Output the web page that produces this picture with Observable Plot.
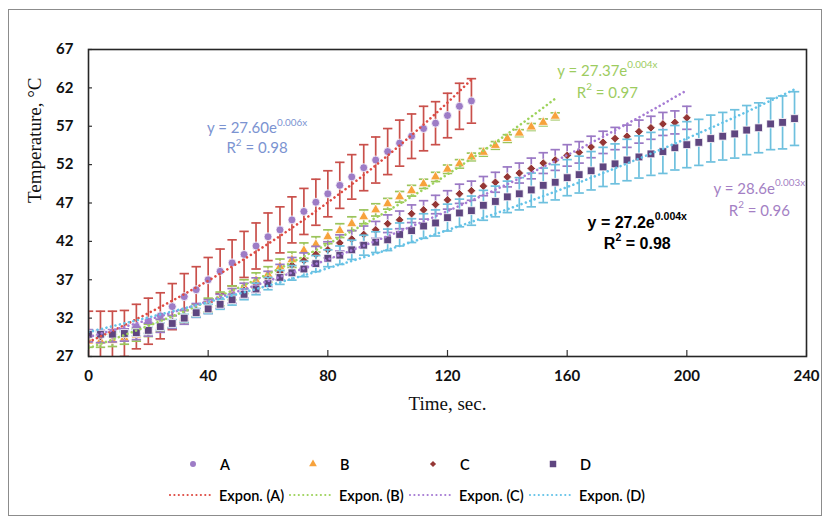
<!DOCTYPE html>
<html>
<head>
<meta charset="utf-8">
<script src="https://cdn.jsdelivr.net/npm/d3@7"></script>
<script src="https://cdn.jsdelivr.net/npm/@observablehq/plot@0.6"></script>
<style>
  body { margin: 0; background: #fff; }
  #wrap { position: relative; width: 828px; height: 523px; overflow: hidden; background: #fff; }
  #border { position: absolute; left: 8px; top: 9px; width: 814px; height: 507px; border: 1px solid #8c8c8c; box-sizing: border-box; }
  #chart { position: absolute; left: 0; top: 0; }
  #chart svg { display: block; }
</style>
</head>
<body>
<div id="wrap"><div id="border"></div><div id="chart"></div></div>
<script>
// ---------- data ----------
const times = [0,4,8,12,16,20,24,28,32,36,40,44,48,52,56,60,64,68,72,76,80,84,88,92,96,100,104,108,112,116,120,124,128,132,136,140,144,148,152,156,160,164,168,172,176,180,184,188,192,196,200,204,208,212,216,220,224,228,232,236];
const xTicks = [0, 40, 80, 120, 160, 200, 240];
const yTicks = [27, 32, 37, 42, 47, 52, 57, 62, 67];
const seriesNames = ["A", "B", "C", "D"];

const tempA = [29.9,29.9,29.9,30.0,30.9,31.6,32.3,33.5,34.8,35.7,
               37.0,38.1,39.2,40.3,41.4,42.6,43.5,44.8,45.9,47.1,
               48.2,49.3,50.4,51.6,52.6,53.7,54.8,55.7,56.7,57.4,
               58.4,59.6,60.3];
const errA  = [3.0,3.0,3.0,3.0,2.9,3.0,3.0,3.0,3.0,3.0,
               2.9,2.9,3.0,3.0,3.0,3.1,3.0,3.0,3.0,3.0,
               3.0,3.0,2.9,3.0,3.0,3.0,3.0,2.9,2.9,2.8,
               2.9,3.0,2.9];

const tempB = [29.0,29.0,29.1,29.4,29.8,30.4,31.0,31.5,32.2,33.0,
               33.7,34.5,35.3,36.1,36.9,37.7,38.7,39.6,40.8,41.6,
               42.6,43.4,44.3,45.2,46.1,46.9,47.8,48.6,49.5,50.4,
               51.4,52.1,53.0,53.6,54.5,55.4,56.1,56.9,57.5,58.3];
const errB  = [0.8,0.8,0.8,0.8,0.8,0.8,0.8,0.8,0.8,0.8,
               0.9,0.9,0.9,0.9,1.0,1.0,1.0,1.0,1.0,1.0,
               0.9,0.9,0.9,0.9,0.8,0.7,0.7,0.7,0.6,0.6,
               0.55,0.55,0.5,0.5,0.5,0.5,0.45,0.45,0.45,0.45];

const tempC = [29.7,29.6,29.7,29.8,30.0,30.5,31.0,31.5,32.1,33.0,
               33.5,34.2,34.9,35.6,36.3,37.1,38.0,38.9,39.5,40.3,
               40.9,41.8,42.3,42.9,43.5,44.3,44.8,45.6,46.1,46.8,
               47.4,48.2,48.6,49.2,49.7,50.4,50.9,51.5,52.2,52.6,
               53.2,53.6,54.3,54.9,55.4,55.7,56.3,56.8,57.3,57.5,
               58.1];
const errC  = [0.8,0.8,0.8,0.8,0.8,0.85,0.85,0.85,0.9,0.9,
               0.9,0.9,0.95,0.95,0.95,1.0,1.0,1.0,1.0,1.05,
               1.05,1.05,1.1,1.1,1.1,1.15,1.15,1.15,1.2,1.2,
               1.2,1.25,1.25,1.25,1.3,1.3,1.3,1.35,1.35,1.35,
               1.4,1.4,1.4,1.45,1.45,1.45,1.5,1.5,1.5,1.5,
               1.5];

const tempD = [29.9,29.9,29.9,30.0,30.1,30.4,30.9,31.3,32.0,32.7,
               33.2,33.8,34.4,35.1,35.8,36.5,37.3,37.9,38.4,39.1,
               39.8,40.2,40.9,41.5,41.9,42.2,42.9,43.4,44.0,44.4,
               45.1,45.7,46.0,46.7,47.2,47.8,48.2,48.7,49.3,49.7,
               50.3,50.7,51.2,51.7,52.1,52.6,53.0,53.4,53.7,54.2,
               54.6,54.9,55.4,55.7,56.0,56.5,56.8,57.3,57.5,58.0];
const errD  = [0.3,0.3,0.3,0.35,0.4,0.4,0.45,0.5,0.5,0.55,
               0.6,0.65,0.7,0.7,0.75,0.8,0.9,0.95,1.0,1.05,
               1.1,1.2,1.25,1.3,1.35,1.4,1.5,1.55,1.6,1.7,
               1.75,1.8,1.9,1.95,2.0,2.05,2.1,2.2,2.25,2.3,
               2.35,2.4,2.5,2.55,2.6,2.7,2.75,2.8,2.85,2.9,
               3.0,3.0,3.05,3.1,3.15,3.2,3.25,3.35,3.45,3.5];

const equationTexts = [
  {base: "y = 27.60e", sup: "0.006x"},
  {base: "y = 27.37e", sup: "0.004x"},
  {base: "y = 28.6e",  sup: "0.003x"},
  {base: "y = 27.2e",  sup: "0.004x"}
];
const r2Texts = ["0.98", "0.97", "0.96", "0.98"];

// ---------- styles ----------
const markerColors = ["#9d7cc6", "#f7a23c", "#953735", "#5f4680"];
const errorColors  = ["#c9504b", "#9bc45b", "#9a78c4", "#6ec0de"];
const trendColors  = ["#de4b43", "#9ed35c", "#a67bd4", "#64c3e8"];
const symbols      = ["circle", "triangle", "diamond2", "square"];
const markerR      = [4.0, 3.8, 3.9, 4.4];
const legendSizes  = [28, 26, 24, 42];
const eqStyles = [
  {x: 56.5,  y: 56.8,  ry: 54.2, color: "#7b93d1", font: "Lato, 'Open Sans', sans-serif", size: 15, weight: 400},
  {x: 173.6, y: 64.26, ry: 61.4, color: "#9dcc5f", font: "Lato, 'Open Sans', sans-serif", size: 15, weight: 400},
  {x: 224.4, y: 48.9,  ry: 46.0, color: "#a47fc4", font: "Lato, 'Open Sans', sans-serif", size: 15, weight: 400},
  {x: 183.6, y: 44.46, ry: 41.7, color: "#000000", font: "'Liberation Sans', Arial, sans-serif", size: 16, weight: 700}
];

// ---------- build ----------
const temps = [tempA, tempB, tempC, tempD];
const errs = [errA, errB, errC, errD];
const rows = seriesNames.map((s, k) =>
  temps[k].map((v, i) => ({series: s, time: times[i], temp: v, err: errs[k][i]})));

function expFit(rs) {
  const n = rs.length;
  let st = 0, sl = 0, stt = 0, stl = 0;
  for (const r of rs) { const l = Math.log(r.temp); st += r.time; sl += l; stt += r.time * r.time; stl += r.time * l; }
  const b = (n * stl - st * sl) / (n * stt - st * st);
  const a = Math.exp((sl - b * st) / n);
  return rs.map(r => ({series: r.series, time: r.time, fit: a * Math.exp(b * r.time)}));
}

const capSymbol = {
  draw(context, size) {
    const w = Math.sqrt(size / Math.PI);
    context.moveTo(-w, 0);
    context.lineTo(w, 0);
  }
};

const marks = [];
rows.forEach((rs, k) => {
  marks.push(Plot.ruleX(rs, {x: "time", y1: d => d.temp - d.err, y2: d => d.temp + d.err, stroke: errorColors[k], strokeWidth: 1.7, clip: true}));
  marks.push(Plot.dot(rs, {x: "time", y: d => d.temp + d.err, symbol: capSymbol, r: 4.7, fill: "none", stroke: errorColors[k], strokeWidth: 1.7, clip: true}));
  marks.push(Plot.dot(rs, {x: "time", y: d => d.temp - d.err, symbol: capSymbol, r: 4.7, fill: "none", stroke: errorColors[k], strokeWidth: 1.7, clip: true}));
  marks.push(Plot.dot(rs, {x: "time", y: "temp", symbol: symbols[k], r: markerR[k], fill: markerColors[k], stroke: "white", strokeWidth: 0.8, clip: true}));
});
rows.forEach((rs, k) => {
  marks.push(Plot.line(expFit(rs), {x: "time", y: "fit", stroke: trendColors[k], strokeWidth: 2.6,
    strokeLinecap: "round", strokeDasharray: "0.01,4.6", clip: true}));
});

marks.push(Plot.tickY(yTicks, {y: d => d, insetRight: 714, stroke: "#333", strokeWidth: 1.2}));
marks.push(Plot.tickX(xTicks, {x: d => d, insetTop: 301, stroke: "#333", strokeWidth: 1.2}));
marks.push(Plot.frame({stroke: "#262626", strokeWidth: 1.6}));
marks.push(Plot.text(yTicks, {y: d => d, text: d => String(d), frameAnchor: "left", textAnchor: "end", dx: -15,
  fontFamily: "Lato, sans-serif", fontWeight: "bold", fontSize: 15, fill: "#111"}));
marks.push(Plot.text(xTicks, {x: d => d, text: d => String(d), frameAnchor: "bottom", dy: 24,
  fontFamily: "Lato, sans-serif", fontWeight: "bold", fontSize: 15, fill: "#111"}));
marks.push(Plot.text(["Temperature, \u00B0C"], {frameAnchor: "left", rotate: -90, dx: -54,
  fontFamily: "'Liberation Serif', 'Times New Roman', serif", fontSize: 19, fill: "#111"}));
marks.push(Plot.text(["Time, sec."], {frameAnchor: "bottom", dy: 53,
  fontFamily: "'Liberation Serif', 'Times New Roman', serif", fontSize: 19, fill: "#111"}));

const chart = Plot.plot({
  width: 828, height: 440,
  marginLeft: 88, marginRight: 22, marginTop: 49, marginBottom: 84,
  x: {domain: [0, 240], axis: null},
  y: {domain: [27, 67], axis: null},
  style: {background: "transparent", overflow: "visible"},
  marks
});
document.getElementById("chart").appendChild(chart);

// ---------- equation annotations ----------
const sx = chart.scale("x"), sy = chart.scale("y");
const svg = d3.select(chart);
const ann = svg.append("g");
eqStyles.forEach((st, k) => {
  const t1 = ann.append("text")
    .attr("x", sx.apply(st.x)).attr("y", sy.apply(st.y))
    .attr("text-anchor", "middle").attr("dominant-baseline", "central")
    .attr("font-family", st.font).attr("font-size", st.size).attr("font-weight", st.weight)
    .attr("fill", st.color);
  t1.append("tspan").text(equationTexts[k].base);
  t1.append("tspan").attr("font-size", st.size * 0.66).attr("dy", -st.size * 0.38).text(equationTexts[k].sup);
  const t2 = ann.append("text")
    .attr("x", sx.apply(st.x)).attr("y", sy.apply(st.ry))
    .attr("text-anchor", "middle").attr("dominant-baseline", "central")
    .attr("font-family", st.font).attr("font-size", st.size).attr("font-weight", st.weight)
    .attr("fill", st.color);
  t2.append("tspan").text("R");
  t2.append("tspan").attr("font-size", st.size * 0.66).attr("dy", -st.size * 0.38).text("2");
  t2.append("tspan").attr("dy", st.size * 0.38).text(" = " + r2Texts[k]);
});

// ---------- legend ----------
const leg = d3.select("#wrap").append("svg")
  .attr("width", 828).attr("height", 83)
  .style("position", "absolute").style("left", "0px").style("top", "440px");
const symTypes = {circle: d3.symbolCircle, triangle: d3.symbolTriangle, diamond2: d3.symbolDiamond2, square: d3.symbolSquare};
seriesNames.forEach((s, k) => {
  const x0 = 193 + 120 * k;
  leg.append("path")
    .attr("transform", `translate(${x0},24)`)
    .attr("d", d3.symbol(symTypes[symbols[k]], legendSizes[k])())
    .attr("fill", markerColors[k]);
  leg.append("text").attr("x", x0 + 27).attr("y", 24).attr("dominant-baseline", "central")
    .attr("font-family", "Lato, sans-serif").attr("font-size", 14.5).attr("font-weight", 600).attr("fill", "#000")
    .text(s);
  const lx = 170 + 120 * k;
  leg.append("line").attr("x1", lx).attr("x2", lx + 42).attr("y1", 55).attr("y2", 55)
    .attr("stroke", trendColors[k]).attr("stroke-width", 2.2).attr("stroke-linecap", "round")
    .attr("stroke-dasharray", "0.01,4.4");
  leg.append("text").attr("x", lx + 49).attr("y", 55).attr("dominant-baseline", "central")
    .attr("font-family", "Lato, sans-serif").attr("font-size", 14.5).attr("font-weight", 600).attr("fill", "#000")
    .text(`Expon. (${s})`);
});
</script>
</body>
</html>
